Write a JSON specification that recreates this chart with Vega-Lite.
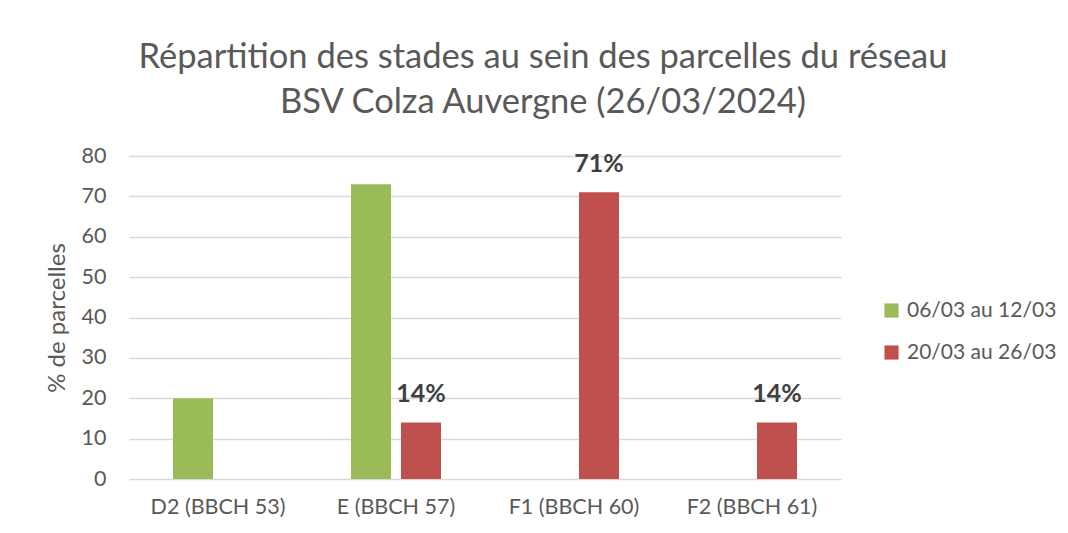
{
  "$schema": "https://vega.github.io/schema/vega-lite/v6.json",
  "autosize": "none",
  "width": 712,
  "height": 323,
  "padding": {"left": 129, "top": 156, "right": 227, "bottom": 54},
  "background": "white",
  "config": {
    "font": "Lato",
    "view": {"stroke": null}
  },
  "title": {
    "text": ["Répartition des stades au sein des parcelles du réseau", "BSV Colza Auvergne (26/03/2024)"],
    "fontSize": 34.5,
    "fontWeight": "normal",
    "color": "#595959",
    "anchor": "middle",
    "frame": "group",
    "dx": 58,
    "offset": 25,
    "lineHeight": 45
  },
  "data": {
    "values": [
      {"stade": "D2 (BBCH 53)", "periode": "06/03 au 12/03", "value": 20},
      {"stade": "E (BBCH 57)", "periode": "06/03 au 12/03", "value": 73},
      {"stade": "E (BBCH 57)", "periode": "20/03 au 26/03", "value": 14},
      {"stade": "F1 (BBCH 60)", "periode": "20/03 au 26/03", "value": 71},
      {"stade": "F2 (BBCH 61)", "periode": "20/03 au 26/03", "value": 14}
    ]
  },
  "encoding": {
    "x": {
      "field": "stade",
      "type": "nominal",
      "sort": ["D2 (BBCH 53)", "E (BBCH 57)", "F1 (BBCH 60)", "F2 (BBCH 61)"],
      "scale": {"paddingInner": 0, "paddingOuter": 0},
      "axis": {
        "title": null,
        "labelAngle": 0,
        "labelFontSize": 21.5,
        "labelColor": "#595959",
        "labelPadding": 17,
        "ticks": false,
        "domain": false
      }
    },
    "xOffset": {
      "field": "periode",
      "type": "nominal",
      "scale": {"domain": ["06/03 au 12/03", "20/03 au 26/03"], "paddingInner": 0.2, "paddingOuter": 0.88}
    },
    "y": {
      "field": "value",
      "type": "quantitative",
      "scale": {"domain": [0, 80]},
      "axis": {
        "title": "% de parcelles",
        "titleFontSize": 24,
        "titleFontWeight": "normal",
        "titleColor": "#595959",
        "titlePadding": 12,
        "labelFontSize": 21.5,
        "labelColor": "#595959",
        "labelPadding": 23,
        "labelOverlap": false,
        "values": [0, 10, 20, 30, 40, 50, 60, 70, 80],
        "ticks": false,
        "domain": false,
        "gridColor": "#d9d9d9",
        "gridWidth": 1.5
      }
    }
  },
  "layer": [
    {
      "mark": {"type": "bar"},
      "encoding": {
        "color": {
          "field": "periode",
          "type": "nominal",
          "scale": {"domain": ["06/03 au 12/03", "20/03 au 26/03"], "range": ["#9BBB59", "#C0504D"]},
          "legend": {
            "title": null,
            "orient": "none",
            "legendX": 752,
            "legendY": 144,
            "symbolType": "square",
            "symbolSize": 200,
            "symbolStrokeWidth": 0,
            "labelFontSize": 21,
            "labelColor": "#595959",
            "labelOffset": 5,
            "rowPadding": 20
          }
        }
      }
    },
    {
      "transform": [
        {"filter": "datum.periode == '20/03 au 26/03'"},
        {"calculate": "datum.value + '%'", "as": "label"}
      ],
      "mark": {"type": "text", "baseline": "alphabetic", "dy": -20, "fontSize": 25, "fontWeight": "bold", "color": "#404040"},
      "encoding": {
        "text": {"field": "label"}
      }
    }
  ]
}
